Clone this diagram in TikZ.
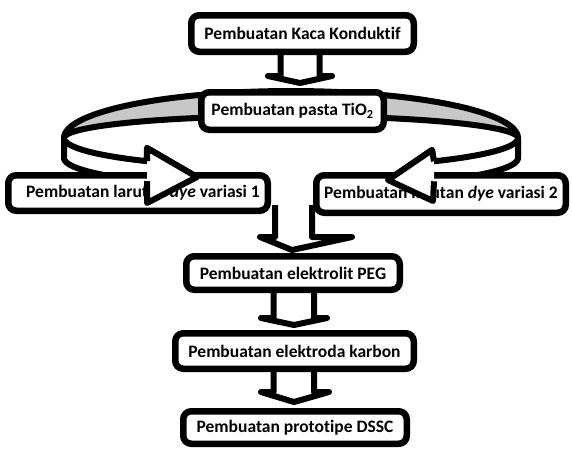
\documentclass[tikz,border=0pt]{standalone}
\usepackage{fontspec}
\setmainfont{Carlito}[Ligatures=NoCommon]
\definecolor{bandgray}{RGB}{200,200,200}
\begin{document}
\begin{tikzpicture}[x=1pt,y=-1pt,
  box/.style={draw=black, line width=6.5pt, fill=white, rounded corners=8pt, inner sep=0pt,
    font=\fontsize{17.5}{21}\selectfont\bfseries},
  blk/.style={draw=black, line width=6pt, fill=white, line join=round},
  blkline/.style={draw=black, line width=6pt, line join=round},
]
\useasboundingbox (0,0) rectangle (572,448);

% back band of the ring
\filldraw[fill=bandgray, draw=black, line width=6pt, line join=round]
  plot[domain=180:360, samples=90] ({291+227*cos(\x)},{138+47*sin(\x)})
  -- plot[domain=360:180, samples=90] ({291+227*cos(\x)},{138+22*sin(\x)}) -- cycle;

% arrow Kaca -> pasta
\fill[white] (280.5,50) -- (280.5,76) -- (268,76) -- (300,83) -- (332,76) -- (319.5,76) -- (319.5,50) -- cycle;
\draw[blkline] (280.5,50) -- (280.5,76) -- (268,76) -- (300,83) -- (332,76) -- (319.5,76) -- (319.5,50);

\node[box, minimum width=182.5pt, minimum height=37.5pt] (pasta) at (292.5,111) {Pembuatan pasta TiO\textsubscript{2}};
\node[box, minimum width=222.5pt, minimum height=36.5pt] (kaca) at (302.5,33.5) {Pembuatan Kaca Konduktif};

% front arrows (bodies)
\filldraw[blk]
  plot[domain=129.5:180, samples=50] ({291+227*cos(\x)},{138+30*sin(\x)})
  -- plot[domain=180:129.5, samples=50] ({291+227*cos(\x)},{158+30*sin(\x)})
  -- (147,203) -- (197,177) -- (147,148) -- cycle;
\filldraw[blk]
  plot[domain=51:0, samples=50] ({291+227*cos(\x)},{138+30*sin(\x)})
  -- plot[domain=0:51, samples=50] ({291+227*cos(\x)},{158+30*sin(\x)})
  -- (433,201) -- (388,180) -- (432,150) -- cycle;

% arrow between the two dye boxes -> elektrolit
\fill[white] (275,205) -- (275,237) -- (260,237) -- (292,250) -- (352,237) -- (312,237) -- (312,205) -- cycle;
\draw[blkline] (275,205) -- (275,237) -- (260,237) -- (292,250) -- (352,237) -- (312,237) -- (312,205);

\node[box, minimum width=259.5pt, minimum height=35.5pt] (dye1) at (138,193) {\hspace*{10pt}Pembuatan larutan \textit{dye} variasi 1};
\node[box, minimum width=249.5pt, minimum height=37.5pt] (dye2) at (441,194) {Pembuatan larutan \textit{dye} variasi 2};

% arrow heads redrawn over the boxes
\fill[white] (147,161) -- (147,148) -- (197,177) -- (147,203) -- (147,181) -- cycle;
\draw[blkline] (147,161) -- (147,148) -- (197,177) -- (147,203) -- (147,181);
\fill[white] (434,161.3) -- (432,150) -- (388,180) -- (433,201) -- (434,181.3) -- cycle;
\draw[blkline] (434,161.3) -- (432,150) -- (388,180) -- (433,201) -- (434,181.3);

% arrow elektrolit -> karbon
\fill[white] (273.5,288) -- (273.5,318) -- (261,318) -- (294,325) -- (327,318) -- (314,318) -- (314,288) -- cycle;
\draw[blkline] (273.5,288) -- (273.5,318) -- (261,318) -- (294,325) -- (327,318) -- (314,318) -- (314,288);

% arrow karbon -> DSSC
\fill[white] (273.5,368) -- (273.5,392) -- (261,392) -- (294,402) -- (329,392) -- (314,392) -- (314,368) -- cycle;
\draw[blkline] (273.5,368) -- (273.5,392) -- (261,392) -- (294,402) -- (329,392) -- (314,392) -- (314,368);

\node[box, minimum width=213.5pt, minimum height=33.5pt] (elek) at (293,273) {Pembuatan elektrolit PEG};
\node[box, minimum width=238.5pt, minimum height=35.5pt] (karbon) at (294.5,351) {Pembuatan elektroda karbon};
\node[box, minimum width=223.5pt, minimum height=32.5pt] (dssc) at (295,427.5) {Pembuatan prototipe DSSC};
\end{tikzpicture}
\end{document}
